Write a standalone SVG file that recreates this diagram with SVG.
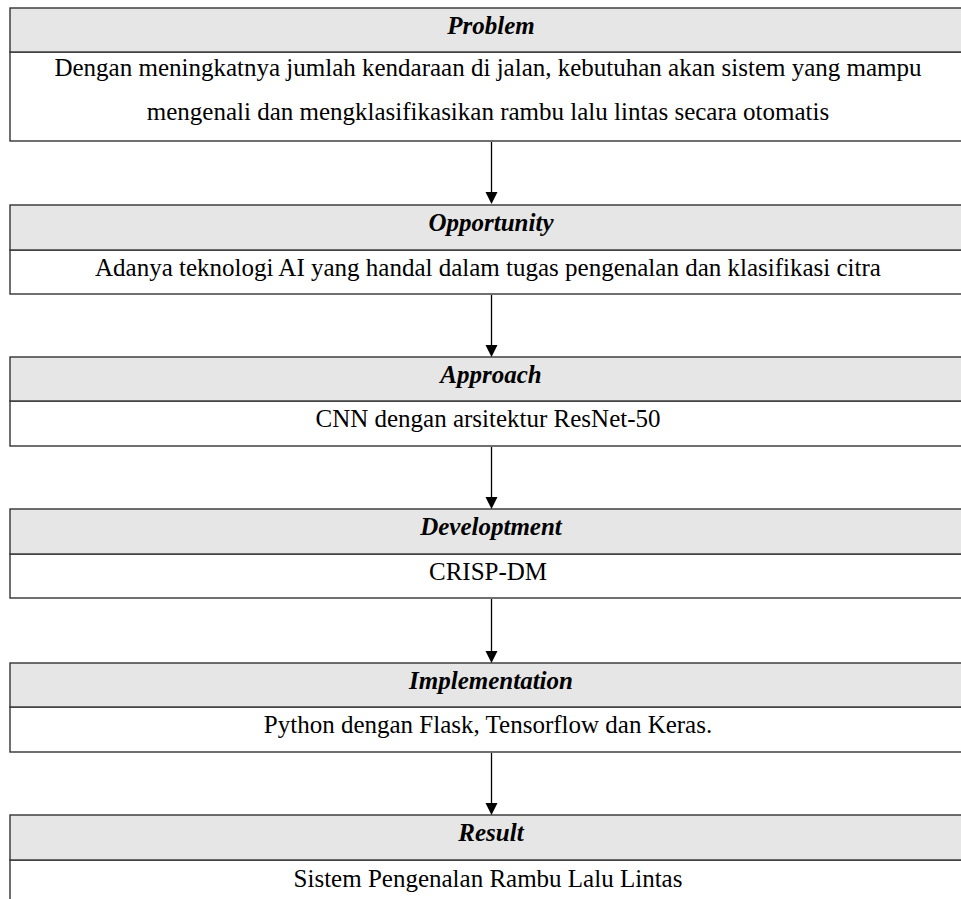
<svg xmlns="http://www.w3.org/2000/svg" width="961" height="899" viewBox="0 0 961 899">
<defs>
<style>
.hd{fill:#e6e6e6;stroke:#333;stroke-width:1.4}
.bd{fill:#fff;stroke:#333;stroke-width:1.4}
.ht{font-family:"Liberation Serif","Times New Roman",serif;font-size:25px;font-weight:bold;font-style:italic;fill:#000;text-anchor:middle}
.bt{font-family:"Liberation Serif","Times New Roman",serif;font-size:25px;fill:#000;text-anchor:middle}
.cn{stroke:#000;stroke-width:1.3;fill:none}
</style>
</defs>
<rect width="961" height="899" fill="#fff"/>
<g id="problem">
<rect class="bd" x="10" y="52" width="966" height="89"/>
<rect class="hd" x="10" y="8" width="966" height="44"/>
<text class="ht" x="491" y="34">Problem</text>
<text class="bt" x="488" y="76">Dengan meningkatnya jumlah kendaraan di jalan, kebutuhan akan sistem yang mampu</text>
<text class="bt" x="488" y="120">mengenali dan mengklasifikasikan rambu lalu lintas secara otomatis</text>
</g>
<g id="opportunity">
<rect class="bd" x="10" y="250" width="966" height="44"/>
<rect class="hd" x="10" y="205" width="966" height="45"/>
<text class="ht" x="491" y="231">Opportunity</text>
<text class="bt" x="488" y="276">Adanya teknologi AI yang handal dalam tugas pengenalan dan klasifikasi citra</text>
</g>
<g id="approach">
<rect class="bd" x="10" y="401" width="966" height="45"/>
<rect class="hd" x="10" y="357" width="966" height="44"/>
<text class="ht" x="491" y="383">Approach</text>
<text class="bt" x="488" y="427">CNN dengan arsitektur ResNet-50</text>
</g>
<g id="developtment">
<rect class="bd" x="10" y="554" width="966" height="44"/>
<rect class="hd" x="10" y="509" width="966" height="45"/>
<text class="ht" x="491" y="535">Developtment</text>
<text class="bt" x="488" y="580">CRISP-DM</text>
</g>
<g id="implementation">
<rect class="bd" x="10" y="707" width="966" height="45"/>
<rect class="hd" x="10" y="663" width="966" height="44"/>
<text class="ht" x="491" y="689">Implementation</text>
<text class="bt" x="488" y="733">Python dengan Flask, Tensorflow dan Keras.</text>
</g>
<g id="result">
<rect class="bd" x="10" y="860" width="966" height="60"/>
<rect class="hd" x="10" y="815" width="966" height="45"/>
<text class="ht" x="491" y="841">Result</text>
<text class="bt" x="488" y="887">Sistem Pengenalan Rambu Lalu Lintas</text>
</g>
<g id="connectors">
<path class="cn" d="M491.5,142 V192"/>
<path d="M485.5,192 H497.5 L491.5,204 Z" fill="#000"/>
<path class="cn" d="M491.5,295 V345"/>
<path d="M485.5,345 H497.5 L491.5,357 Z" fill="#000"/>
<path class="cn" d="M491.5,447 V497"/>
<path d="M485.5,497 H497.5 L491.5,509 Z" fill="#000"/>
<path class="cn" d="M491.5,599 V651"/>
<path d="M485.5,651 H497.5 L491.5,663 Z" fill="#000"/>
<path class="cn" d="M491.5,753 V803"/>
<path d="M485.5,803 H497.5 L491.5,815 Z" fill="#000"/>
</g>
</svg>
